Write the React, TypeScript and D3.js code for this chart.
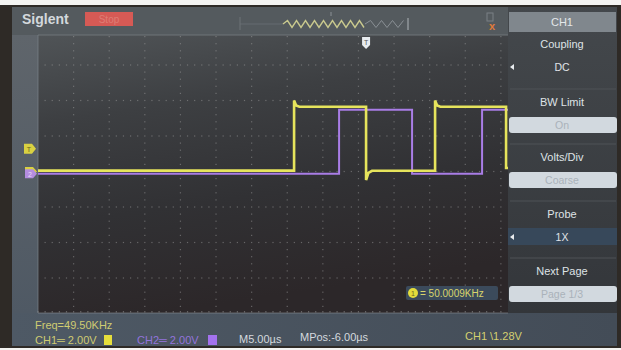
import React, { useLayoutEffect } from "react";
import * as d3 from "d3";

const W = 621;
const H = 350;

// CH1 trace: time (µs from left edge of record) and volts
const ch1Time = [0, 35.96, 35.96, 36.25, 36.7, 46.07, 46.07, 46.4, 46.9, 55.76, 55.76, 56.05, 56.5, 65.73, 65.73, 66];
const ch1Volt = [0.05, 0.05, 4.0, 3.72, 3.65, 3.65, -0.48, -0.08, 0.04, 0.04, 4.0, 3.72, 3.65, 3.65, 0.2, 0.2];

// CH2 trace
const ch2Time = [0, 42.28, 42.28, 52.53, 52.53, 62.36, 62.36, 66];
const ch2Volt = [0, 0, 3.6, 3.6, 0, 0, 3.6, 3.6];
const ch2Offset = -0.12;

const trigLevel = 1.28;
const trigTime = 46.07;

const menuTitles = ["Coupling", "BW Limit", "Volts/Div", "Probe", "Next Page"];
const menuValues = ["DC", "On", "Coarse", "1X", "Page 1/3"];
const menuKinds = ["arrow", "box", "box", "select", "box"];

const FONT = "'Liberation Sans', Arial, sans-serif";

export default function App() {
  useLayoutEffect(() => {
    document.body.style.margin = "0";
  }, []);

  const gx0 = 38, gx1 = 508, gy0 = 35, gy1 = 313;
  const x = d3.scaleLinear().domain([0, 66]).range([gx0, gx1]);
  const y = d3.scaleLinear().domain([-8, 8]).range([313.5, 29.5]);

  const line = d3
    .line<[number, number]>()
    .x((d) => x(d[0]))
    .y((d) => y(d[1]));

  const ch1Pts = ch1Time.map((t, i) => [t, ch1Volt[i]] as [number, number]);
  const ch2Pts = ch2Time.map((t, i) => [t, ch2Volt[i] + ch2Offset] as [number, number]);

  // dotted graticule
  const dots: { cx: number; cy: number }[] = [];
  const vLines = d3.range(5, 66, 5);
  const hLines = d3.range(-6, 7, 2);
  vLines.forEach((t) => {
    d3.range(-8, 7.9, 0.4).forEach((v) => {
      const cy = y(v);
      if (cy > gy0 + 1 && cy < gy1) dots.push({ cx: x(t), cy });
    });
  });
  hLines.forEach((v) => {
    d3.range(0, 66, 1).forEach((t) => {
      if (t % 5 !== 0) dots.push({ cx: x(t), cy: y(v) });
    });
  });
  const bottomDots = d3.range(0, 66, 1).map((t) => x(t));

  // status-bar thumbnail zigzags
  const zig = (xa: number, xb: number, period: number, amp: number, cy: number) => {
    let p = `M${xa},${cy}`;
    let up = true;
    for (let xx = xa + period / 2; xx <= xb; xx += period / 2) {
      p += ` L${xx},${cy + (up ? -amp : amp)}`;
      up = !up;
    }
    return p;
  };

  const trigY = y(trigLevel);
  const ch1Gnd = y(0);
  const ch2Gnd = y(ch2Offset);

  const menuTop = [48, 106, 161, 218, 275];

  return (
    <svg width={W} height={H} style={{ display: "block" }} fontFamily={FONT}>
      <defs>
        <linearGradient id="gridBg" x1="0" y1="0" x2="0.25" y2="1">
          <stop offset="0" stopColor="#505457" />
          <stop offset="0.3" stopColor="#3d3f42" />
          <stop offset="0.65" stopColor="#313134" />
          <stop offset="1" stopColor="#2c2729" />
        </linearGradient>
        <linearGradient id="stripBg" x1="0" y1="0" x2="0" y2="1">
          <stop offset="0" stopColor="#5f656b" />
          <stop offset="1" stopColor="#4f5964" />
        </linearGradient>
        <linearGradient id="menuBg" x1="0" y1="0" x2="0" y2="1">
          <stop offset="0" stopColor="#44484c" />
          <stop offset="1" stopColor="#33363a" />
        </linearGradient>
        <linearGradient id="bottomBg" x1="0" y1="0" x2="1" y2="0">
          <stop offset="0" stopColor="#4e5965" />
          <stop offset="1" stopColor="#434c57" />
        </linearGradient>
      </defs>

      {/* bezel */}
      <rect x={0} y={0} width={W} height={H} fill="#f4f4f2" />
      <rect x={0} y={5} width={W} height={343} fill="#2e2a26" />

      {/* status bar */}
      <rect x={12} y={7} width={497} height={29} fill="#545a5e" />
      {/* left marker strip */}
      <rect x={12} y={35} width={26} height={279} fill="url(#stripBg)" />
      {/* graticule background */}
      <rect x={gx0} y={gy0} width={gx1 - gx0} height={gy1 - gy0} fill="url(#gridBg)" />
      {/* bottom info bar */}
      <rect x={12} y={313} width={605} height={33} fill="url(#bottomBg)" />
      {/* menu panel */}
      <rect x={508} y={7} width={109} height={306} fill="url(#menuBg)" />

      {/* status bar content */}
      <text x={22} y={24} fontSize={14} fontWeight={700} fill="#d3d8dc">Siglent</text>
      <rect x={85} y={12} width={48} height={14} fill="#d65a55" />
      <text x={109} y={23} fontSize={10} fill="#de7d74" textAnchor="middle">Stop</text>
      <line x1={240} y1={24} x2={283} y2={24} stroke="#656b70" strokeWidth={1} />
      <line x1={240} y1={17} x2={240} y2={30} stroke="#6c7276" strokeWidth={1} />
      <path d={zig(283, 365, 9, 3.5, 24)} fill="none" stroke="#c9c98e" strokeWidth={1.4} />
      <path d={zig(365, 405, 11, 3.5, 24)} fill="none" stroke="#8a9095" strokeWidth={1} />
      <line x1={408} y1={18} x2={408} y2={30} stroke="#a0a6aa" strokeWidth={1.2} />
      <line x1={331} y1={12} x2={331} y2={16} stroke="#8a9095" strokeWidth={1} />
      {/* usb icon */}
      <rect x={487} y={13} width={6} height={8} fill="none" stroke="#7a8085" strokeWidth={1} />
      <text x={489} y={30} fontSize={11} fontWeight={700} fill="#e07a3a">x</text>
      <line x1={gx0} y1={35} x2={gx1} y2={35} stroke="#6e7478" strokeWidth={1} />

      {/* graticule */}
      <g fill="#a0a0a0" opacity={0.5}>
        {dots.map((d, i) => (
          <rect key={i} x={d.cx - 0.6} y={d.cy - 0.6} width={1.2} height={1.2} />
        ))}
        {bottomDots.map((cx, i) => (
          <rect key={"b" + i} x={cx - 0.6} y={gy1 - 2} width={1.2} height={1.5} />
        ))}
      </g>
      <line x1={gx0} y1={gy0} x2={gx0} y2={gy1} stroke="#7d848b" strokeWidth={1} opacity={0.7} />
      <line x1={gx0} y1={gy1} x2={gx1} y2={gy1} stroke="#8a9096" strokeWidth={1} opacity={0.6} />

      {/* traces */}
      <path d={line(ch2Pts) || ""} fill="none" stroke="#a97de6" strokeWidth={2} />
      <path d={line(ch1Pts) || ""} fill="none" stroke="#e6e45c" strokeWidth={2.6} />

      {/* trigger position marker */}
      <g transform={`translate(${x(trigTime)},37)`}>
        <path d="M-4,0 L4,0 L4,8 L0,12 L-4,8 Z" fill="#e8ecef" />
        <text x={0} y={8} fontSize={7} textAnchor="middle" fill="#555">T</text>
      </g>

      {/* channel and trigger level markers */}
      <g transform={`translate(24,${trigY})`}>
        <path d="M0,-5 L8,-5 L12,0 L8,5 L0,5 Z" fill="#d9d142" />
        <text x={5} y={3} fontSize={7} textAnchor="middle" fill="#6a6420">T</text>
      </g>
      <g transform={`translate(25,${ch1Gnd})`}>
        <path d="M0,-4.5 L8,-4.5 L12,0 L8,4.5 L0,4.5 Z" fill="#d9d142" />
      </g>
      <g transform={`translate(25,${ch2Gnd})`}>
        <path d="M0,-4.5 L8,-4.5 L12,0 L8,4.5 L0,4.5 Z" fill="#b48de0" />
        <text x={5} y={3} fontSize={7} textAnchor="middle" fill="#e8dcf6">2</text>
      </g>

      {/* frequency counter */}
      <rect x={406} y={286} width={92} height={14} rx={2} fill="#3b4a5b" />
      <circle cx={413} cy={293} r={5} fill="#e2dc3c" />
      <text x={413} y={296} fontSize={7} textAnchor="middle" fill="#6a6420">1</text>
      <text x={420} y={297} fontSize={10} fill="#d8d46c">= 50.0009KHz</text>

      {/* menu */}
      <rect x={509} y={12} width={107} height={20} fill="#80878d" />
      <text x={562} y={26} fontSize={11} textAnchor="middle" fill="#e4e8ea">CH1</text>
      {menuTitles.map((t, i) => {
        const ty = menuTop[i];
        const kind = menuKinds[i];
        return (
          <g key={t}>
            {i > 0 && <line x1={510} y1={ty - 17} x2={616} y2={ty - 17} stroke="#4e5357" strokeWidth={1} />}
            <text x={562} y={ty} fontSize={11} textAnchor="middle" fill="#dfe3e6">{t}</text>
            {kind === "box" && (
              <>
                <rect x={509} y={ty + 11} width={108} height={16} rx={3} fill="#d2d9df" />
                <text x={562} y={ty + 23} fontSize={10.5} textAnchor="middle" fill="#aab2ba">{menuValues[i]}</text>
              </>
            )}
            {kind === "select" && (
              <rect x={508} y={ty + 10} width={109} height={17} fill="#37485a" />
            )}
            {(kind === "arrow" || kind === "select") && (
              <>
                <path d={`M510,${ty + 19} L514,${ty + 16} L514,${ty + 22} Z`} fill="#e8ecef" />
                <text x={562} y={ty + 23} fontSize={10.5} textAnchor="middle" fill="#e0e4e8">{menuValues[i]}</text>
              </>
            )}
          </g>
        );
      })}

      {/* bottom info bar */}
      <text x={35} y={329} fontSize={11} fill="#cfcb72">Freq=49.50KHz</text>
      <text x={35} y={344} fontSize={11} fill="#cfcb72">CH1═ 2.00V</text>
      <rect x={104} y={335} width={8} height={10} fill="#e6de3c" />
      <text x={137} y={344} fontSize={11} fill="#9374dc">CH2═ 2.00V</text>
      <rect x={208} y={335} width={9} height={10} fill="#a372ee" />
      <text x={239} y={343} fontSize={11} fill="#d4d9de">M5.00µs</text>
      <text x={300} y={341} fontSize={11} fill="#d4d9de">MPos:-6.00µs</text>
      <text x={465} y={340} fontSize={11} fill="#d4d070">CH1 \1.28V</text>
    </svg>
  );
}
